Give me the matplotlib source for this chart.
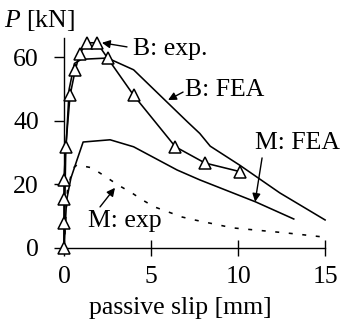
import matplotlib
matplotlib.use("Agg")
import matplotlib.pyplot as plt

plt.rcParams['font.family'] = ['Liberation Serif', 'DejaVu Serif']
plt.rcParams['mathtext.fontset'] = 'custom'
plt.rcParams['mathtext.it'] = 'Liberation Serif:italic'

# B: exp. (triangles)
b_exp_x = [0, 0, 0, 0, 0.1, 0.35, 0.65, 0.9, 1.3, 1.9, 2.5, 4.0, 6.4, 8.1, 10.1]
b_exp_y = [0, 7.8, 15.4, 21.4, 31.8, 48, 56, 61, 64.5, 64.5, 59.7, 48, 31.8, 26.7, 24]

# B: FEA
b_fea_x = [0, 0.1, 0.3, 0.6, 1.0, 2.5, 4.0, 5.7, 7.1, 7.8, 8.4, 10.1, 12.4, 15.0]
b_fea_y = [0, 30, 50, 58, 59.3, 59.7, 56, 47, 39.6, 36, 32, 26, 17.3, 8.8]

# M: FEA
m_fea_x = [0, 0.15, 0.4, 0.75, 1.1, 2.65, 4.0, 6.5, 7.8, 11.0, 13.2]
m_fea_y = [0, 15, 22, 27.7, 33.3, 34, 31.8, 24.5, 21.4, 14.5, 9.1]

# M: exp (dashed)
m_exp_x = [0, 0.2, 0.5, 0.75, 1.6, 2.5, 3.1, 3.9, 4.5, 5.2, 6.0, 6.8, 7.5, 9.7, 12.8, 14.8]
m_exp_y = [0, 18, 25, 26.1, 25.2, 22.0, 19.8, 17.3, 15.1, 12.9, 11.3, 9.7, 8.8, 6.3, 4.7, 3.5]

x_ticks = [0, 5, 10, 15]
y_ticks = [0, 20, 40, 60]

fs = 18.5

fig = plt.figure(figsize=(3.44, 3.22), dpi=100)
ax = fig.add_axes([0.186, 0.23, 0.759, 0.652])

lw = 1.15
ax.plot(b_fea_x, b_fea_y, color='black', lw=lw, clip_on=False)
ax.plot(m_fea_x, m_fea_y, color='black', lw=lw, clip_on=False)
ax.plot(m_exp_x, m_exp_y, color='black', lw=lw, linestyle=(0, (2.5, 6)), clip_on=False)
ax.plot(b_exp_x, b_exp_y, color='black', lw=lw, marker='^', markersize=9,
        markerfacecolor='white', markeredgecolor='black', markeredgewidth=1.1,
        clip_on=False, zorder=5)

ax.set_xlim(0, 15)
ax.set_ylim(0, 66)
ax.set_xticks(x_ticks)
ax.set_yticks(y_ticks)
ax.spines['top'].set_visible(False)
ax.spines['right'].set_visible(False)
for s in ['left', 'bottom']:
    ax.spines[s].set_linewidth(1.0)
ax.tick_params(axis='y', direction='out', length=7, width=1.0, pad=11, labelsize=fs)
ax.tick_params(axis='x', direction='inout', length=12, width=1.0, pad=7, labelsize=fs)

ax.set_xlabel('passive slip [mm]', fontsize=fs, labelpad=3)
ax.xaxis.set_label_coords(0.445, -0.235)
fig.text(0.012, 0.975, r'$P$ [kN]', fontsize=fs, va='top', ha='left')

# labels
ax.text(3.97, 62.5, 'B: exp.', fontsize=fs, va='center', ha='left')
ax.text(6.95, 49.5, 'B: FEA', fontsize=fs, va='center', ha='left')
ax.text(10.98, 33.0, 'M: FEA', fontsize=fs, va='center', ha='left')
ax.text(1.38, 8.6, 'M: exp', fontsize=fs, va='center', ha='left')

# arrows: (tail, tip)
arrow = dict(arrowstyle='-|>', color='black', lw=1.0, mutation_scale=12,
             shrinkA=0, shrinkB=0)
ax.annotate('', xy=(2.18, 64.5), xytext=(3.62, 63.2), arrowprops=arrow)
ax.annotate('', xy=(5.98, 46.5), xytext=(6.84, 49.0), arrowprops=arrow)
ax.annotate('', xy=(10.98, 14.5), xytext=(11.38, 28.3), arrowprops=arrow)
ax.annotate('', xy=(2.93, 18.9), xytext=(2.07, 12.9), arrowprops=arrow)

fig.savefig('out.png', dpi=100, facecolor='white')
